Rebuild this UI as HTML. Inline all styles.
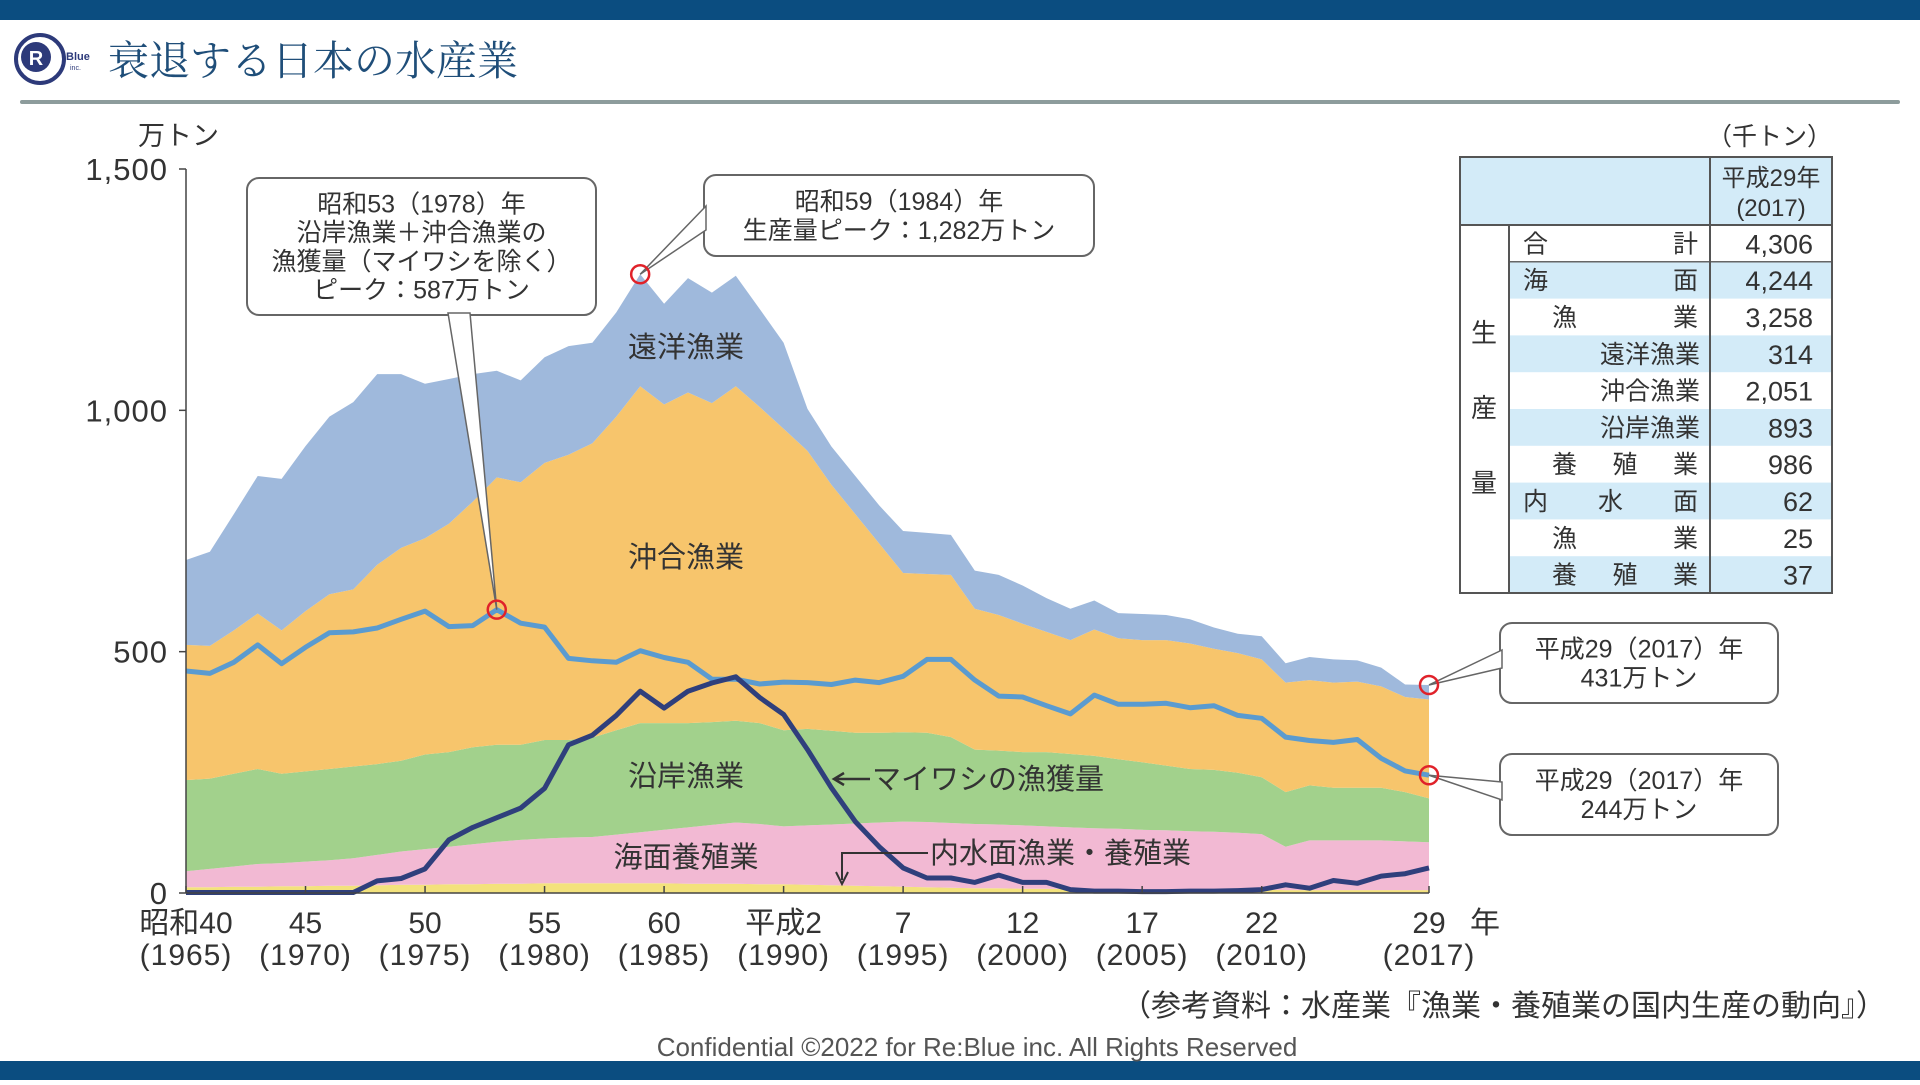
<!DOCTYPE html>
<html><head><meta charset="utf-8">
<style>
html,body{margin:0;padding:0;background:#fff;}
body{width:1920px;height:1080px;overflow:hidden;position:relative;font-family:"Liberation Sans","Noto Sans CJK JP",sans-serif;}
svg text{font-family:"Liberation Sans","Noto Sans CJK JP",sans-serif;}
</style></head>
<body>
<svg id="chart" width="1920" height="1080" viewBox="0 0 1920 1080" xmlns="http://www.w3.org/2000/svg">
  <rect x="0" y="0" width="1920" height="20" fill="#0b4d80"/>
  <rect x="0" y="1061" width="1920" height="19" fill="#0b4d80"/>
  <g>
    <circle cx="40" cy="59" r="24" fill="none" stroke="#2d3a7a" stroke-width="4"/>
    <circle cx="36" cy="57" r="15" fill="#2d3a7a"/>
    <text x="36" y="65" font-size="20" font-weight="bold" fill="#fff" text-anchor="middle">R</text>
    <text x="66" y="60" font-size="11" font-weight="bold" fill="#2d3a7a">Blue</text>
    <text x="70" y="70" font-size="7" fill="#2d3a7a">inc.</text>
  </g>
  <text x="108" y="75" font-size="41" fill="#1f4e79" style="font-family:'Liberation Serif','Noto Serif CJK SC',serif">衰退する日本の水産業</text>
  <line x1="22" y1="102" x2="1898" y2="102" stroke="#8d9c9c" stroke-width="4" stroke-linecap="round"/>
  <text x="138" y="145" font-size="27" fill="#333">万トン</text>
  <text x="1832" y="145" font-size="25" fill="#333" text-anchor="end">（千トン）</text>
  <g id="plot"></g>
  <g id="table"></g>
  <text x="1886" y="1016" font-size="30" fill="#333" text-anchor="end">（参考資料：水産業『漁業・養殖業の国内生産の動向』）</text>
  <text x="977" y="1056" font-size="26" fill="#555" text-anchor="middle">Confidential ©2022 for Re:Blue inc. All Rights Reserved</text>
</svg>
<script>
const years = [];
for (let y = 1965; y <= 2017; y++) years.push(y);
const inland = [12,12,13,13,14,14,15,15,16,17,17,18,18,19,19,20,20,20,20,20,20,19,19,19,18,18,17,16,15,14,13,12,11,10,10,9,9,8,8,8,8,7,7,7,7,7,6,6,6,6,6,6,6];
const marineAquaculture = [33,38,42,47,48,51,53,57,63,69,74,78,83,87,91,93,95,96,101,106,111,117,122,127,125,120,123,126,129,132,135,135,134,133,132,131,129,128,126,125,123,123,121,120,118,115,90,103,103,103,103,101,99];
const coastal = [189,187,192,197,185,187,189,190,188,188,196,196,201,201,197,204,202,206,216,226,221,216,213,211,209,199,200,194,188,186,185,185,178,154,153,152,154,152,150,144,140,134,129,128,124,118,113,114,109,109,109,102,91];
const offshore = [280,275,297,322,297,332,362,367,413,441,448,473,509,554,544,574,591,610,650,698,660,685,661,693,655,625,576,510,453,392,330,329,336,292,281,266,249,236,262,251,253,260,260,251,248,244,227,218,218,220,210,197,205];
const distant = [176,195,241,285,314,342,368,388,395,360,320,300,264,221,211,219,225,208,216,232,209,237,229,229,203,178,87,79,79,79,87,85,83,79,83,79,70,65,60,52,54,52,50,44,40,48,40,48,48,44,39,26,30];
const sardine = [1,1,1,1,1,1,1,1,25,30,50,110,136,156,176,217,307,327,368,418,383,418,435,448,405,370,297,218,148,96,52,31,31,22,37,22,22,7,4,4,3,3,4,4,5,7,17,10,26,20,35,40,52];
const coastalOffshoreExSardine = [460,455,478,514,475,509,539,541,549,567,584,552,554,587,559,551,486,481,478,502,488,478,443,443,433,437,436,432,441,436,449,484,484,441,408,406,388,371,410,391,391,393,384,388,368,362,323,316,312,318,279,253,244];
const yTicks = [0,500,1000,1500];
const yTickLabels = ["0","500","1,000","1,500"];
const xTickYears = [1965,1970,1975,1980,1985,1990,1995,2000,2005,2010,2017];
const xTickLabels1 = ["昭和40","45","50","55","60","平成2","7","12","17","22","29"];
const xTickLabels2 = ["(1965)","(1970)","(1975)","(1980)","(1985)","(1990)","(1995)","(2000)","(2005)","(2010)","(2017)"];
const tableLabels = ["合　　　　　計","海　　　　　面","漁　　　　業","遠洋漁業","沖合漁業","沿岸漁業","養　殖　業","内　　水　　面","漁　　　　業","養　殖　業"];
const tableValues = ["4,306","4,244","3,258","314","2,051","893","986","62","25","37"];

const NS = "http://www.w3.org/2000/svg";
const X0 = 186, X1 = 1429, Y0 = 893, YTOP = 169;
const xs = yr => X0 + (yr - 1965) * (X1 - X0) / 52;
const ys = v => Y0 - v * (Y0 - YTOP) / 1500;
function mk(tag, attrs, parent, text) {
  const e = document.createElementNS(NS, tag);
  for (const k in attrs) e.setAttribute(k, attrs[k]);
  if (text !== undefined) e.textContent = text;
  parent.appendChild(e);
  return e;
}
const plot = document.getElementById('plot');

const layers = [
  {vals: inland, color: '#f3e27c', name: 'area-inland'},
  {vals: marineAquaculture, color: '#f2b9d3', name: 'area-marine-aquaculture'},
  {vals: coastal, color: '#a2d18c', name: 'area-coastal'},
  {vals: offshore, color: '#f7c56c', name: 'area-offshore'},
  {vals: distant, color: '#9fb9dc', name: 'area-distant'}
];
let base = years.map(() => 0);
layers.forEach(L => {
  const top = base.map((b, i) => b + L.vals[i]);
  let d = 'M' + years.map((y, i) => xs(y).toFixed(1) + ',' + ys(top[i]).toFixed(1)).join('L');
  for (let i = years.length - 1; i >= 0; i--) d += 'L' + xs(years[i]).toFixed(1) + ',' + ys(base[i]).toFixed(1);
  d += 'Z';
  const p = mk('path', {d: d, fill: L.color}, plot);
  
  
  base = top;
});
const total = base;

function line(vals, color, name) {
  const d = 'M' + years.map((y, i) => xs(y).toFixed(1) + ',' + ys(vals[i]).toFixed(1)).join('L');
  const p = mk('path', {d: d, fill: 'none', stroke: color, 'stroke-width': 5, 'stroke-linejoin': 'round'}, plot);
  
  
}
line(coastalOffshoreExSardine, '#5a9bd0', 'line-coastal-offshore-ex-sardine');
line(sardine, '#2f3f7c', 'line-sardine-catch');

const ax = mk('line', {x1: X0, y1: YTOP, x2: X0, y2: Y0, stroke: '#444', 'stroke-width': 1.5}, plot);


const bx = mk('line', {x1: X0, y1: Y0, x2: X1, y2: Y0, stroke: '#444', 'stroke-width': 1.5}, plot);


yTicks.forEach((v, i) => {
  const t = mk('line', {x1: X0 - 7, y1: ys(v), x2: X0, y2: ys(v), stroke: '#444', 'stroke-width': 1.5}, plot);
  
  
  const tx = mk('text', {x: 168, y: ys(v) + 11, 'font-size': 31, 'text-anchor': 'end', fill: '#333', 'letter-spacing': 1}, plot, yTickLabels[i]);
  
  
});
xTickYears.forEach((yr, i) => {
  const t = mk('line', {x1: xs(yr), y1: Y0 - 7, x2: xs(yr), y2: Y0, stroke: '#444', 'stroke-width': 1.5}, plot);
  
  
  const a = mk('text', {x: xs(yr), y: 933, 'font-size': 30, 'text-anchor': 'middle', fill: '#333'}, plot, xTickLabels1[i]);
  
  
  const b = mk('text', {x: xs(yr), y: 965, 'font-size': 30, 'text-anchor': 'middle', fill: '#333', 'letter-spacing': 1}, plot, xTickLabels2[i]);
  
  
});
const yl = mk('text', {x: 1470, y: 933, 'font-size': 30, fill: '#333'}, plot, '年');



[['遠洋漁業', 686, 357], ['沖合漁業', 686, 567], ['沿岸漁業', 686, 786], ['海面養殖業', 686, 867]].forEach(l => {
  const t = mk('text', {x: l[1], y: l[2], 'font-size': 29, 'text-anchor': 'middle', fill: '#333'}, plot, l[0]);
  
  
});
const sa = mk('path', {d: 'M870,779 L836,779 M844,773 L834,779 L844,785', fill: 'none', stroke: '#333', 'stroke-width': 2.5}, plot);


const sl = mk('text', {x: 872, y: 789, 'font-size': 29, fill: '#333'}, plot, 'マイワシの漁獲量');


const il = mk('text', {x: 930, y: 863, 'font-size': 29, fill: '#333'}, plot, '内水面漁業・養殖業');


const ip = mk('path', {d: 'M928,853 L842,853 L842,880 M836,872 L842,884 L848,872', fill: 'none', stroke: '#333', 'stroke-width': 2}, plot);



function callout(name, bx, by, bw, bh, pointer, lines, fs) {
  const g = mk('g', {}, plot);
  
  
  mk('rect', {x: bx, y: by, width: bw, height: bh, rx: 12, fill: '#fff', stroke: '#666', 'stroke-width': 2}, g);
  mk('polygon', {points: pointer, fill: '#fff', stroke: '#666', 'stroke-width': 1.5}, g);
  const lh = fs * 1.15;
  const sy = by + bh / 2 - (lines.length - 1) * lh / 2 + fs * 0.36;
  lines.forEach((s, i) => mk('text', {x: bx + bw / 2, y: sy + i * lh, 'font-size': fs, 'text-anchor': 'middle', fill: '#333'}, g, s));
}
const p1978 = [xs(1978), ys(coastalOffshoreExSardine[13])];
const p1984 = [xs(1984), ys(total[19])];
const p2017a = [xs(2017), ys(total[52])];
const p2017b = [xs(2017), ys(coastalOffshoreExSardine[52])];
callout('callout-1978-peak', 247, 178, 349, 137, `448,313 ${p1978[0]},${p1978[1]} 470,313`, ['昭和53（1978）年', '沿岸漁業＋沖合漁業の', '漁獲量（マイワシを除く）', 'ピーク：587万トン'], 25);
callout('callout-1984-peak', 704, 175, 390, 81, `706,206 ${p1984[0]},${p1984[1]} 706,230`, ['昭和59（1984）年', '生産量ピーク：1,282万トン'], 25);
callout('callout-2017-total', 1500, 623, 278, 80, `1502,650 ${p2017a[0]},${p2017a[1]} 1502,668`, ['平成29（2017）年', '431万トン'], 25);
callout('callout-2017-coastal-offshore', 1500, 754, 278, 81, `1502,782 ${p2017b[0]},${p2017b[1]} 1502,800`, ['平成29（2017）年', '244万トン'], 25);
[p1978, p1984, p2017a, p2017b].forEach(p => {
  const c = mk('circle', {cx: p[0], cy: p[1], r: 9, fill: 'none', stroke: '#e0222a', 'stroke-width': 2.5}, plot);
  
  
});

const tb = document.getElementById('table');
const TX = 1460, TR = 1832, TC1 = 1509, TC2 = 1710, TY = 157, TH = 225, RH = 36.8;
const hd = mk('rect', {x: TX, y: TY, width: TR - TX, height: TH - TY, fill: '#d3ebf8'}, tb);


tableLabels.forEach((lab, i) => {
  const ry = TH + i * RH;
  if (i % 2 === 1) {
    const r = mk('rect', {x: TC1, y: ry, width: TR - TC1, height: RH, fill: '#d3ebf8'}, tb);
    
    
  }
  const t = mk('text', {x: 1700, y: ry + RH / 2 + 9, 'font-size': 25, 'text-anchor': 'end', fill: '#333'}, tb, lab);
  if (i === 0 || i === 1 || i === 7) { t.setAttribute('x', 1523); t.setAttribute('text-anchor', 'start'); t.setAttribute('textLength', 175); }
  else if (i === 2 || i === 6 || i === 8 || i === 9) { t.setAttribute('x', 1552); t.setAttribute('text-anchor', 'start'); t.setAttribute('textLength', 146); }
  
  
  const v = mk('text', {x: 1813, y: ry + RH / 2 + 10, 'font-size': 27, 'text-anchor': 'end', fill: '#333'}, tb, tableValues[i]);
  
  
  if (i === 1) mk('line', {x1: TC1, y1: ry, x2: TR, y2: ry, stroke: '#666', 'stroke-width': 1.5}, tb);
});
mk('rect', {x: TX, y: TY, width: TR - TX, height: 593 - TY, fill: 'none', stroke: '#555', 'stroke-width': 2}, tb);
mk('line', {x1: TX, y1: TH, x2: TR, y2: TH, stroke: '#555', 'stroke-width': 2}, tb);
mk('line', {x1: TC1, y1: TH, x2: TC1, y2: 593, stroke: '#555', 'stroke-width': 2}, tb);
mk('line', {x1: TC2, y1: TY, x2: TC2, y2: 593, stroke: '#555', 'stroke-width': 2}, tb);
[['平成29年', 1771, 186], ['(2017)', 1771, 216]].forEach(h => {
  const t = mk('text', {x: h[1], y: h[2], 'font-size': 24, 'text-anchor': 'middle', fill: '#333'}, tb, h[0]);
  
  
});
[['生', 342], ['産', 417], ['量', 492]].forEach(h => {
  const t = mk('text', {x: 1484, y: h[1], 'font-size': 26, 'text-anchor': 'middle', fill: '#333'}, tb, h[0]);
  
  
});
</script>
</body></html>
